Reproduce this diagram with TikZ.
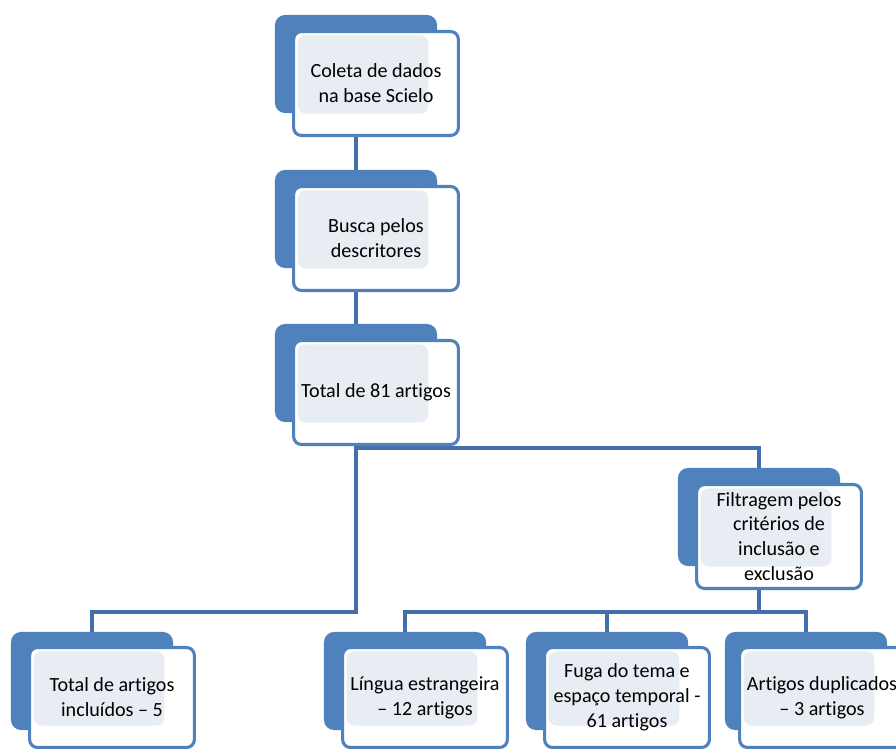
\documentclass[tikz,border=0pt]{standalone}
\usepackage{fontspec}
\setmainfont{Carlito}[Ligatures=NoCommon]
\definecolor{acento}{RGB}{79,129,189}
\definecolor{linha}{RGB}{68,111,170}
\definecolor{trama}{RGB}{232,236,243}

\begin{document}
\begin{tikzpicture}[x=0.025cm, y=-0.025cm,
  fundo/.style={fill=acento, rounded corners=0.25cm, minimum width=4.05cm, minimum height=2.45cm, inner sep=0pt},
  caixa/.style={draw=acento, line width=2.2pt, fill=white, rounded corners=0.2cm,
    minimum width=4.12cm, minimum height=2.6cm, inner sep=2pt, align=center,
    font=\fontsize{14.3}{17.7}\selectfont,
    path picture={\fill[trama] ([shift={(0.1cm,-0.1cm)}]path picture bounding box.north west)
      rectangle ([shift={(-0.75cm,0.55cm)}]path picture bounding box.south east);}},
  caixabaixo/.style={caixa, minimum height=2.5cm},
  liga/.style={draw=linha, line width=2.2pt}
]
  \useasboundingbox (0,0) rectangle (896,749);
  \clip (0,0) rectangle (896,749);

  % caixas de fundo
  \node[fundo] (coletaBk) at (356,64) {};
  \node[fundo] (buscaBk) at (356,219) {};
  \node[fundo] (totalBk) at (356,373) {};
  \node[fundo] (filtroBk) at (759,517) {};
  \node[fundo] (incluidosBk) at (92,681) {};
  \node[fundo] (linguaBk) at (405,681) {};
  \node[fundo] (fugaBk) at (607,681) {};
  \node[fundo] (duplicadosBk) at (806,681) {};

  % ligacoes
  \coordinate (barraA) at (0,448);
  \coordinate (barraB) at (0,612);
  \draw[liga] (coletaBk.south) -- (buscaBk.north);
  \draw[liga] (buscaBk.south) -- (totalBk.north);
  \draw[liga] (totalBk.south) -- (totalBk.south |- barraB) -| (incluidosBk.north);
  \draw[liga] (totalBk.south |- barraA) -| (filtroBk.north);
  \draw[liga] (filtroBk.south) -- (filtroBk.south |- barraB);
  \draw[liga] (linguaBk.north) -- (linguaBk.north |- barraB) -- (duplicadosBk.north |- barraB) -- (duplicadosBk.north);
  \draw[liga] (fugaBk.north) -- (fugaBk.north |- barraB);

  % caixas da frente
  \node[caixa] (coleta) at ([shift={(20,19.5)}]coletaBk) {Coleta de dados\\na base Scielo};
  \node[caixa] (busca) at ([shift={(20,19.5)}]buscaBk) {Busca pelos\\descritores};
  \node[caixa] (total) at ([shift={(20,19.5)}]totalBk) {Total de 81 artigos};
  \node[caixa] (filtro) at ([shift={(20,19.5)}]filtroBk) {Filtragem pelos\\critérios de\\inclusão e\\exclusão};
  \node[caixabaixo] (incluidos) at ([shift={(20,16.5)}]incluidosBk) {Total de artigos\\incluídos – 5};
  \node[caixabaixo] (lingua) at ([shift={(20,16.5)}]linguaBk) {Língua estrangeira\\– 12 artigos};
  \node[caixabaixo] (fuga) at ([shift={(20,16.5)}]fugaBk) {Fuga do tema e\\espaço temporal -\\61 artigos};
  \node[caixabaixo] (duplicados) at ([shift={(16,16.5)}]duplicadosBk) {Artigos duplicados\\– 3 artigos};
\end{tikzpicture}
\end{document}
